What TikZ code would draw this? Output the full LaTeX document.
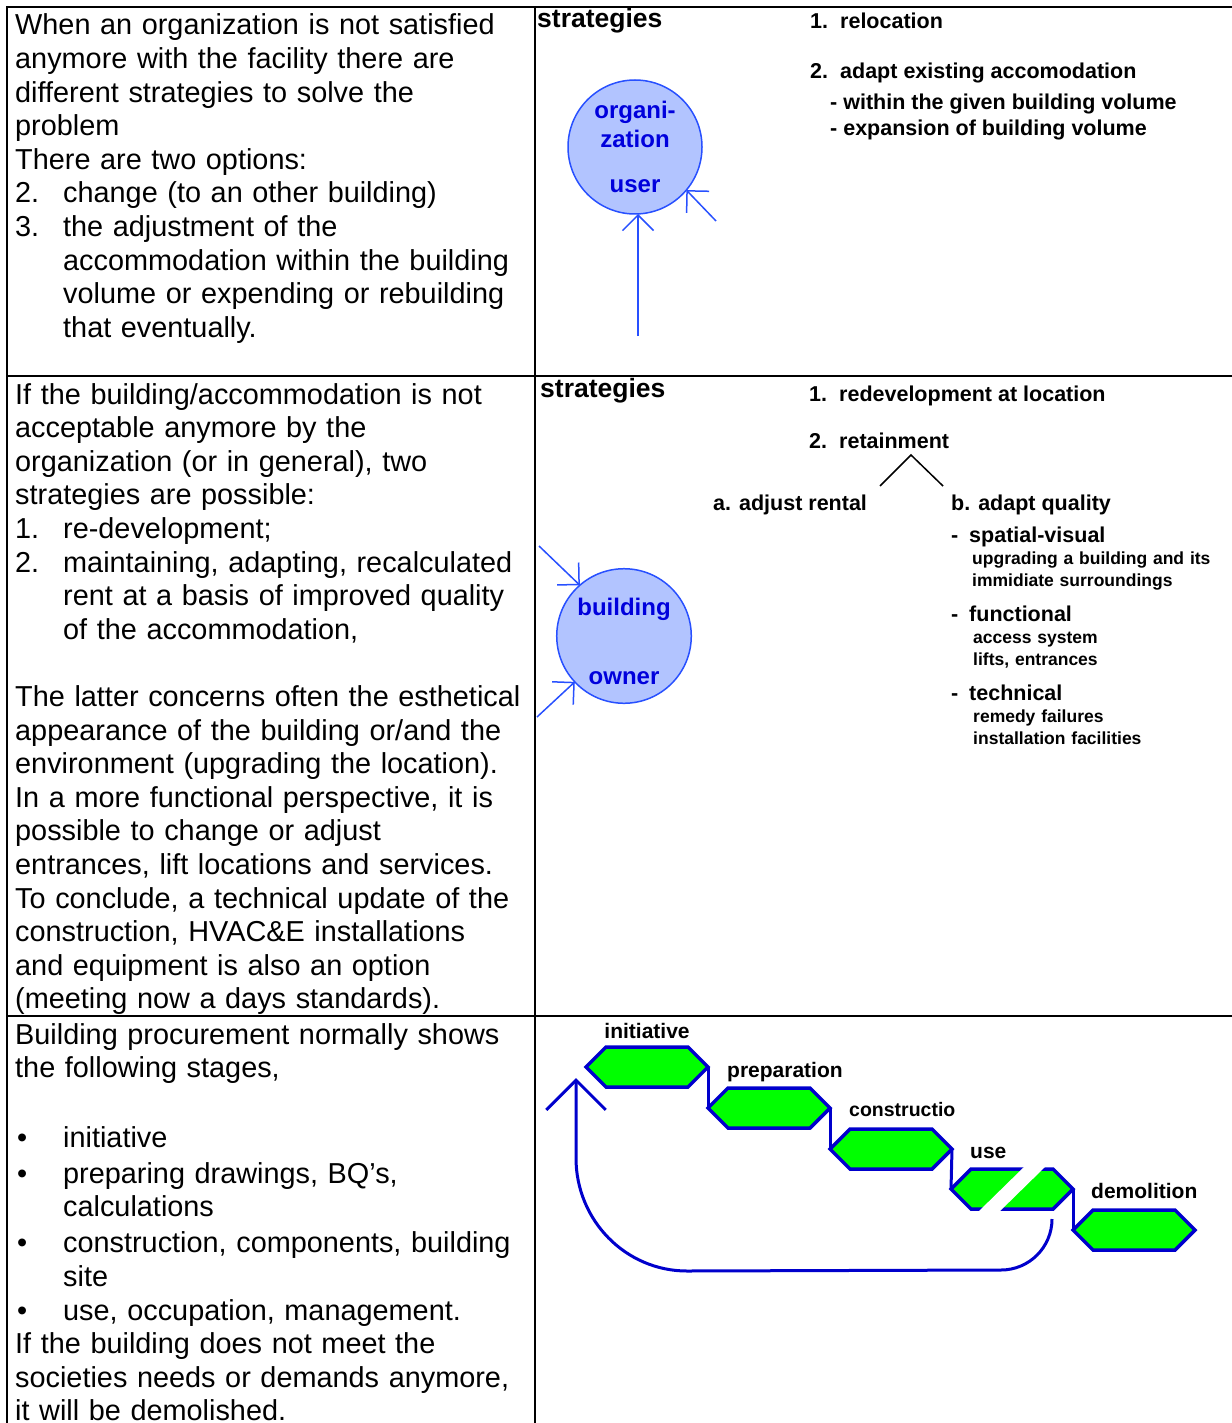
\documentclass[tikz,border=0pt]{standalone}
\usepackage{fontspec}
\setmainfont{Liberation Sans}
\usetikzlibrary{arrows.meta,shapes.symbols}

\definecolor{stagegreen}{RGB}{0,255,0}
\definecolor{stageblue}{RGB}{0,0,204}
\definecolor{circfill}{RGB}{178,196,255}
\definecolor{circline}{RGB}{40,80,255}
\definecolor{circtext}{RGB}{0,0,220}

\begin{document}
\begin{tikzpicture}[x=1pt,y=-1pt,
	cell/.style={anchor=base west, inner sep=0pt, text width=560pt, align=left, font=\fontsize{28.85}{33.6}\selectfont},
	head/.style={anchor=base west, inner sep=0pt, font=\bfseries\fontsize{26.5}{30}\selectfont},
	item/.style={anchor=base west, inner sep=0pt, font=\bfseries\fontsize{21.5}{26}\selectfont},
	sub/.style={anchor=base west, inner sep=0pt, text width=260pt, align=left, font=\bfseries\fontsize{17.5}{22.5}\selectfont},
	actor/.style={circle, draw=circline, fill=circfill, line width=1.5pt, minimum size=134pt, inner sep=0pt, outer sep=0pt, text=circtext, align=center, font=\bfseries\fontsize{24}{29}\selectfont},
	push/.style={draw=circline, line width=1.5pt, -{Straight Barb[angle=90:22pt]}},
	stage/.style={signal, signal to=east and west, draw=stageblue, fill=stagegreen, line width=3.5pt, minimum width=122pt, minimum height=40pt, inner sep=0pt, outer sep=0pt},
	stagelabel/.style={anchor=base west, inner sep=0pt, font=\bfseries\fontsize{21}{25}\selectfont},
	flow/.style={draw=stageblue, line width=3pt}]
	\useasboundingbox (0,0) rectangle (1231,1423);
	% table
	\draw[line width=2pt] (7,1440) -- (7,7) -- (1240,7);
	\draw[line width=2pt] (535,7) -- (535,1440);
	\draw[line width=2pt] (7,376) -- (1240,376);
	\draw[line width=2pt] (7,1016) -- (1240,1016);
	% first row
	\node[cell] (introtext) at (15,35) {When an organization is not satisfied\\
		anymore with the facility there are\\
		different strategies to solve the\\
		problem\\
		There are two options:\\
		\makebox[48pt][l]{2.}change (to an other building)\\
		\makebox[48pt][l]{3.}the adjustment of the\\
		\hspace*{48pt}accommodation within the building\\
		\hspace*{48pt}volume or expending or rebuilding\\
		\hspace*{48pt}that eventually.};
	\node[head] (strategiesa) at (537,28) {strategies};
	\node[item] (reloc) at (810,29) {\makebox[30pt][l]{1.}relocation};
	\node[item] (adapt) at (810,79) {\makebox[30pt][l]{2.}adapt existing accomodation};
	\node[item] (within) at (830,110) {- within the given building volume};
	\node[item] (expand) at (830,136) {- expansion of building volume};
	\node[actor] (orguser) at (635,147) {organi-\\zation\\[16pt]user};
	\coordinate (orgfoot) at (638,336);
	\coordinate (orgside) at (716,221);
	\draw[push] (orgfoot) -- (orgfoot |- orguser.south);
	\draw[push] (orgside) -- (orguser.-40);
	% second row
	\node[cell] (ownertext) at (15,404) {If the building/accommodation is not\\
		acceptable anymore by the\\
		organization (or in general), two\\
		strategies are possible:\\
		\makebox[48pt][l]{1.}re-development;\\
		\makebox[48pt][l]{2.}maintaining, adapting, recalculated\\
		\hspace*{48pt}rent at a basis of improved quality\\
		\hspace*{48pt}of the accommodation,\\[33.6pt]
		The latter concerns often the esthetical\\
		appearance of the building or/and the\\
		environment (upgrading the location).\\
		In a more functional perspective, it is\\
		possible to change or adjust\\
		entrances, lift locations and services.\\
		To conclude, a technical update of the\\
		construction, HVAC\&E installations\\
		and equipment is also an option\\
		(meeting now a days standards).};
	\node[head] (strategiesb) at (540,397) {strategies};
	\node[item] (redev) at (809,401) {\makebox[30pt][l]{1.}redevelopment at location};
	\node[item] (retain) at (809,448) {\makebox[30pt][l]{2.}retainment};
	\coordinate (forkl) at (880,486);
	\coordinate (forktop) at (911,455);
	\coordinate (forkr) at (943,486);
	\draw[line width=1.5pt] (forkl) -- (forktop) -- (forkr);
	\node[item] (rental) at (713,510) {a. adjust rental};
	\node[item] (quality) at (951,510) {b. adapt quality};
	\node[item] (spatial) at (951,542) {\makebox[18pt][l]{-}spatial-visual};
	\node[sub] (spatialtxt) at (972,564) {upgrading a building and its\\immidiate surroundings};
	\node[item] (functional) at (951,621) {\makebox[18pt][l]{-}functional};
	\node[sub] (functionaltxt) at (973,643) {access system\\lifts, entrances};
	\node[item] (technical) at (951,700) {\makebox[18pt][l]{-}technical};
	\node[sub] (technicaltxt) at (973,722) {remedy failures\\installation facilities};
	\node[actor] (owner) at (624,636) {\mbox{}\\[-1pt]building\\[40pt]owner};
	\coordinate (ownerina) at (539,546);
	\coordinate (ownerinb) at (537,717);
	\draw[push] (ownerina) -- (owner.131);
	\draw[push] (ownerinb) -- (owner.223);
	% third row
	\node[cell] (stagetext) at (15,1044) {Building procurement normally shows\\
		the following stages,\\[36pt]
		\makebox[48pt][l]{\hspace*{2pt}•}initiative\\[2.4pt]
		\makebox[48pt][l]{\hspace*{2pt}•}preparing drawings, BQ’s,\\
		\hspace*{48pt}calculations\\[2.4pt]
		\makebox[48pt][l]{\hspace*{2pt}•}construction, components, building\\
		\hspace*{48pt}site\\
		\makebox[48pt][l]{\hspace*{2pt}•}use, occupation, management.\\
		If the building does not meet the\\
		societies needs or demands anymore,\\
		it will be demolished.};
	\node[stage] (init) at (647,1067) {};
	\node[stage] (prep) at (769,1108) {};
	\node[stage] (cons) at (891,1149) {};
	\node[stage] (use) at (1012,1189) {};
	\node[stage] (demo) at (1134,1230) {};
	\fill[white] (1025,1166) -- (1046,1166) -- (999,1212) -- (978,1212) -- cycle;
	\draw[flow] (init.east) -- (prep.west);
	\draw[flow] (prep.east) -- (cons.west);
	\draw[flow] (cons.east) -- (use.west);
	\draw[flow] (use.east) -- (demo.west);
	\node[stagelabel, anchor=base] (initlabel) at (647,1038) {initiative};
	\node[stagelabel] (preplabel) at (727,1077) {preparation};
	\node[stagelabel, font=\bfseries\fontsize{19.5}{25}\selectfont] (conslabel) at (849,1116) {constructio};
	\node[stagelabel] (uselabel) at (970,1158) {use};
	\node[stagelabel] (demolabel) at (1091,1198) {demolition};
	\coordinate (backstart) at (1052,1219);
	\coordinate (backend) at (576,1078);
	\draw[flow, -{Straight Barb[angle=90:42pt]}] (backstart) arc[start angle=0, end angle=90, radius=51]
		-- (687,1271) arc[start angle=90, end angle=180, x radius=111, y radius=113] -- (backend);
\end{tikzpicture}
\end{document}
